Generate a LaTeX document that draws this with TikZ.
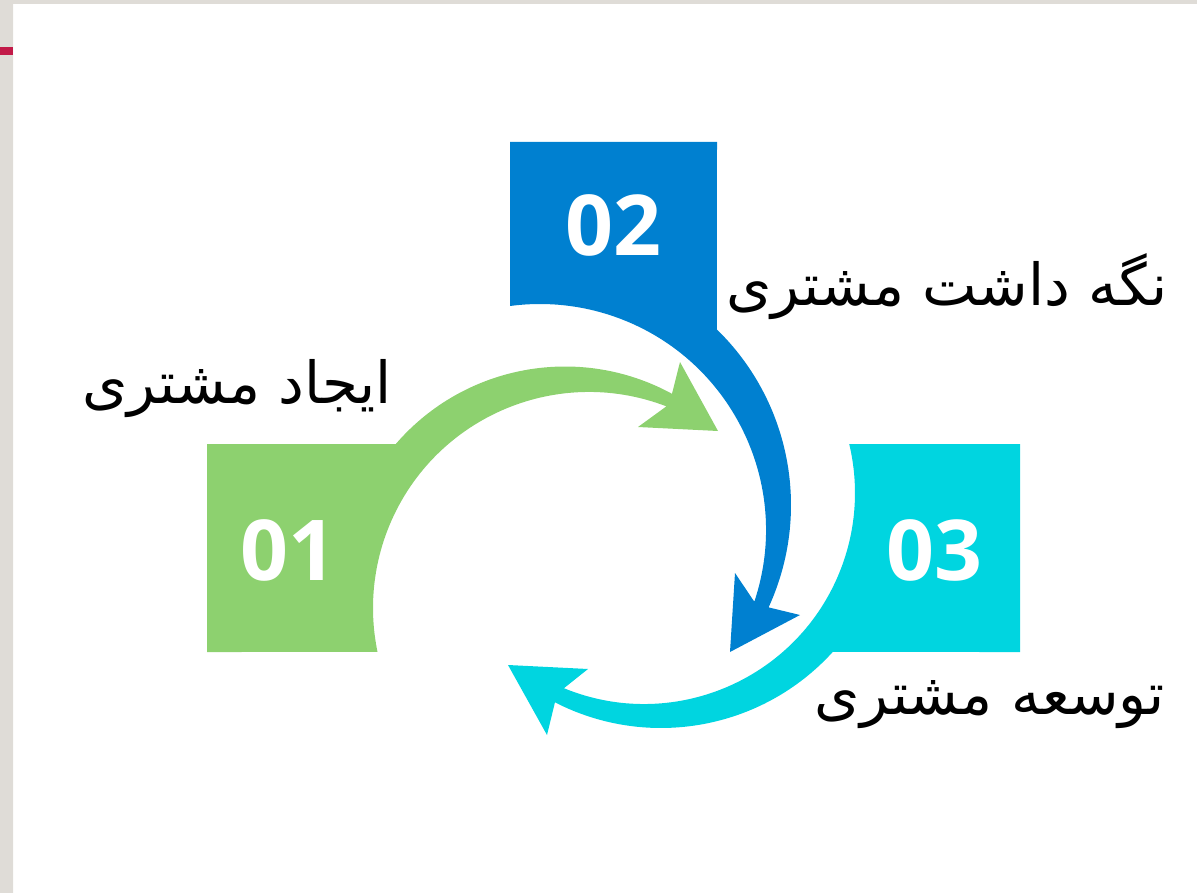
\documentclass[tikz,border=0pt]{standalone}
\usepackage{fontspec}
\setmainfont{Open Sans}
\newfontfamily\farsi[Script=Arabic]{DejaVu Sans}
\newfontfamily\numfont{Open Sans}
\TeXXeTstate=1
\definecolor{stepgreen}{HTML}{8DD16F}
\definecolor{stepblue}{HTML}{0080D0}
\definecolor{stepcyan}{HTML}{00D5E0}
\definecolor{framegray}{HTML}{DFDCD7}
\definecolor{markred}{HTML}{C21A48}
\tikzset{
 num/.style={text=white, inner sep=0pt, font=\numfont\bfseries\fontsize{84}{90}\selectfont},
 lbl/.style={inner sep=0pt, anchor=base east, font=\farsi\fontsize{58}{66}\selectfont}
}

\begin{document}
\begin{tikzpicture}[x=1pt,y=1pt,yscale=-1]
\useasboundingbox (0,0) rectangle (1197,893);
\fill[framegray] (0,0) rectangle (13,893) (0,0) rectangle (1197,4);
\fill[markred] (0,47.5) rectangle (13,55.5);

% step 1
\fill[stepgreen] (207,444) -- ([shift={(565,590)}]220.78:223.5)
 arc[start angle=220.78, end angle=298.6, radius=223.5]
 -- (680,362) -- (718,431) -- (638,427)
 -- ([shift={(589,608)}]291:216) arc[start angle=291, end angle=168.25, radius=216]
 -- (207,652) -- cycle;
% step 2
\fill[stepblue] (510,142) -- (717,142) -- ([shift={(546,505)}]-45.8:245)
 arc[start angle=-45.8, end angle=24.7, radius=245]
 -- (800,615) -- (730,652) -- (735,573)
 -- ([shift={(540,530)}]18.5:226) arc[start angle=18.5, end angle=-97.6, radius=226]
 -- cycle;
% step 3
\fill[stepcyan] (849,444) -- (1020,444) -- (1020,652) -- ([shift={(661,496)}]42.25:232)
 arc[start angle=42.25, end angle=117.2, radius=232]
 -- (547,735) -- (508,665) -- (588,669)
 -- ([shift={(644,493)}]112.3:211) arc[start angle=112.3, end angle=-13.4, radius=211]
 -- cycle;

\foreach \n/\x/\y in {01/288/550, 02/613/225, 03/934/550}
 \node[num] (n\n) at (\x,\y) {\n};

\node[lbl] (t1) at (392,403) {\beginR ایجاد مشتری\endR};
\node[lbl] (t2) at (1168,306) {\beginR نگه داشت مشتری\endR};
\node[lbl] (t3) at (1165,714) {\beginR توسعه مشتری\endR};
\end{tikzpicture}
\end{document}
